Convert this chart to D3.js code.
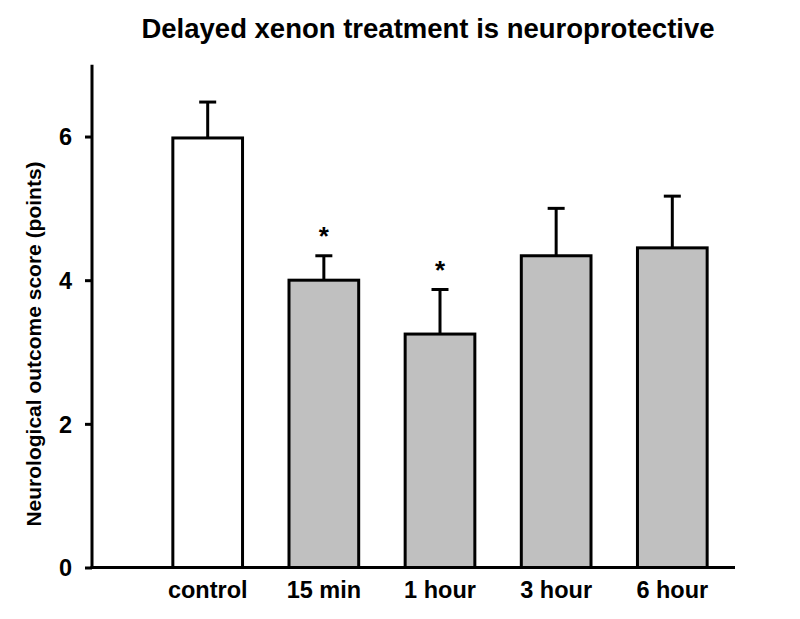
<!DOCTYPE html>
<html><head><meta charset="utf-8">
<script src="https://cdn.jsdelivr.net/npm/d3@7"></script>
<style>body{margin:0;background:#fff}svg{display:block}text{font-family:"Liberation Sans",Arial,sans-serif;font-weight:bold}</style>
</head><body>
<script>
const categories = ["control","15 min","1 hour","3 hour","6 hour"];
const means = [5.98, 4.00, 3.25, 4.34, 4.45];
const sems = [0.50, 0.34, 0.62, 0.66, 0.72];
const significant = [false, true, true, false, false];
const fills = ["#ffffff","#c0c0c0","#c0c0c0","#c0c0c0","#c0c0c0"];
const yTicks = [0,2,4,6];

const W=800,H=619;
const svg=d3.select("body").append("svg").attr("width",W).attr("height",H);
const x=d3.scaleBand().domain(categories).range([138,742]).paddingInner(0.4).paddingOuter(0.3);
const y=d3.scaleLinear().domain([0,7]).range([567.5,64.7]);

svg.append("text").attr("x",428).attr("y",38).attr("text-anchor","middle").attr("font-size",27.5).text("Delayed xenon treatment is neuroprotective");

// bars
svg.selectAll("rect.bar").data(categories).enter().append("rect")
 .attr("x",d=>x(d)).attr("width",x.bandwidth())
 .attr("y",(d,i)=>y(means[i])).attr("height",(d,i)=>y(0)-y(means[i]))
 .attr("fill",(d,i)=>fills[i]).attr("stroke","#000").attr("stroke-width",3);

// error bars
const cap=8.5;
categories.forEach((c,i)=>{
  const cx=x(c)+x.bandwidth()/2;
  svg.append("line").attr("x1",cx).attr("x2",cx).attr("y1",y(means[i])).attr("y2",y(means[i]+sems[i])).attr("stroke","#000").attr("stroke-width",3);
  svg.append("line").attr("x1",cx-cap).attr("x2",cx+cap).attr("y1",y(means[i]+sems[i])).attr("y2",y(means[i]+sems[i])).attr("stroke","#000").attr("stroke-width",3);
  if(significant[i]) svg.append("text").attr("x",cx).attr("y",y(means[i]+sems[i])-11).attr("text-anchor","middle").attr("font-size",26).text("*");
});

// y axis
const yAxis=svg.append("g").attr("transform","translate(92,0)")
 .call(d3.axisLeft(y).tickValues(yTicks).tickSize(7).tickPadding(13).tickFormat(d3.format("d")));
yAxis.select(".domain").remove();
yAxis.selectAll(".tick line").attr("stroke","#000").attr("stroke-width",3);
yAxis.selectAll(".tick text").attr("font-size",23.5).attr("fill","#000").attr("dy","0.35em");
svg.append("line").attr("x1",92).attr("x2",92).attr("y1",y(7)).attr("y2",y(0)+1.5).attr("stroke","#000").attr("stroke-width",3);

// x axis
svg.append("line").attr("x1",90.5).attr("x2",735).attr("y1",y(0)).attr("y2",y(0)).attr("stroke","#000").attr("stroke-width",3);
const xAxis=svg.append("g").attr("transform",`translate(0,${y(0)})`).call(d3.axisBottom(x).tickSize(0).tickPadding(14));
xAxis.select(".domain").remove();
xAxis.selectAll(".tick text").attr("font-size",23.5).attr("fill","#000");

svg.append("text").attr("transform","translate(41,344) rotate(-90)").attr("text-anchor","middle").attr("font-size",21).text("Neurological outcome score (points)");
</script>
</body></html>
